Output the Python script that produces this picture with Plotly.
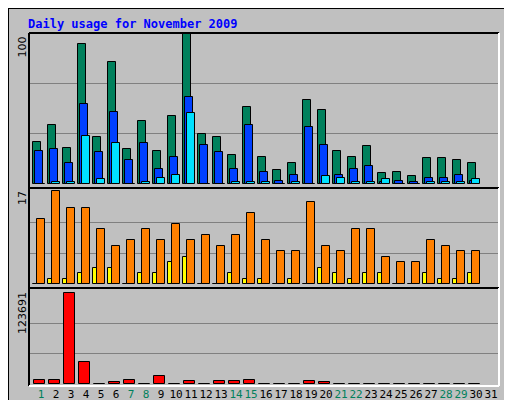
import plotly.graph_objects as go
from plotly.subplots import make_subplots

days = list(range(1, 31))
hits = [28,39,24,93,31,81,23,42,22,45,100,33,31,19,51,18,9,14,56,49,22,18,25,7,8,5,17,17,16,14]
files = [22,23,14,53,21,48,16,27,10,18,58,26,21,10,39,8,2,6,38,26,6,10,12,1,2,1,4,4,6,2]
pages = [0,1,1,32,3,27,0,1,4,6,47,0,0,1,1,1,0,1,0,5,4,1,1,3,0,0,1,1,1,3]
visits = [0,1,1,2,3,3,0,2,2,4,5,0,0,2,1,1,0,1,0,3,2,1,2,2,0,0,2,1,1,2]
sites = [12,17,14,14,10,7,8,10,8,11,8,9,7,9,13,8,6,6,15,7,6,10,10,5,4,4,8,7,6,6]
kbytes = [5850,5850,123691,29500,400,3100,5850,400,11300,400,4500,400,4500,4500,5850,400,400,400,4500,3100,400,400,400,400,400,400,400,400,400,400]
weekend = [1,7,8,14,15,21,22,28,29]
tick_days = list(range(1, 32))

P = 15.0  # px per day
def ow(a, b):
    return dict(offset=a / P, width=(b - a) / P)

fig = make_subplots(rows=3, cols=1, shared_xaxes=True)
ln = dict(color="black", width=1)
fig.add_bar(x=days, y=hits, marker=dict(color="#00805C", line=ln), **ow(-8, 0), row=1, col=1)
fig.add_bar(x=days, y=files, marker=dict(color="#0040FF", line=ln), **ow(-6, 2), row=1, col=1)
fig.add_bar(x=days, y=pages, marker=dict(color="#00E0FF", line=ln), **ow(-4, 4), row=1, col=1)
fig.add_bar(x=days, y=visits, marker=dict(color="#FFFF00", line=ln), **ow(-8, 0), row=2, col=1)
fig.add_bar(x=days, y=sites, marker=dict(color="#FF8000", line=ln), **ow(-4, 4), row=2, col=1)
fig.add_bar(x=days, y=kbytes, marker=dict(color="#FF0000", line=ln), **ow(-7, 4), row=3, col=1)

W, H = 512, 400
def py(y):
    return 1 - y / H

xdom = [21 / W, 491 / W]
xr = [1 - 12 / P, 1 + 458 / P]
for i in (1, 2, 3):
    k = "xaxis" if i == 1 else f"xaxis{i}"
    fig.layout[k].update(domain=xdom, range=xr, showgrid=False, zeroline=False,
                         showticklabels=False, ticks="")
fig.layout.xaxis3.update(showticklabels=True, tickvals=tick_days, tickangle=0, ticklen=0,
                         ticktext=[f"<span style='color:#00805C'>{d}</span>" if d in weekend else str(d) for d in tick_days],
                         tickfont=dict(family="DejaVu Sans Mono", size=11, color="black"))

panels = [(25, 180, 176, [-2.7, 100.6], [100/3, 200/3]),
          (180, 280, 276, [-0.73, 17.6], [17/3, 34/3]),
          (280, 378, 376, [-2718, 130500], [123691/3, 2*123691/3])]
for i, (t, b, base, rng, gv) in enumerate(panels, 1):
    k = "yaxis" if i == 1 else f"yaxis{i}"
    fig.layout[k].update(domain=[py(b), py(t)], range=rng, tickvals=gv, showticklabels=False,
                         gridcolor="#808080", gridwidth=1, zeroline=False, ticks="")
    fig.add_shape(type="line", xref="paper", yref="paper", x0=xdom[0], x1=xdom[1], y0=py(t), y1=py(t), line=dict(color="black", width=2))
    fig.add_shape(type="line", xref="paper", yref="paper", x0=xdom[0], x1=xdom[0], y0=py(b), y1=py(t), line=dict(color="black", width=2))
    fig.add_shape(type="line", xref="paper", yref="paper", x0=xdom[0], x1=xdom[1], y0=py(b), y1=py(b), line=dict(color="white", width=2))
    fig.add_shape(type="line", xref="paper", yref="paper", x0=xdom[1], x1=xdom[1], y0=py(b), y1=py(t), line=dict(color="white", width=2))

fig.add_shape(type="rect", xref="paper", yref="paper", x0=0, x1=1, y0=0, y1=1, line=dict(color="black", width=2))
fig.add_shape(type="line", xref="paper", yref="paper", x0=508/W, x1=508/W, y0=py(394), y1=py(3), line=dict(color="#808080", width=4))
fig.add_shape(type="line", xref="paper", yref="paper", x0=3/W, x1=508/W, y0=py(397), y1=py(397), line=dict(color="#808080", width=4))

mono = "DejaVu Sans Mono"
fig.add_annotation(text="<b>Daily usage for November 2009</b>", xref="paper", yref="paper",
                   x=18/W, y=py(16), xanchor="left", yanchor="middle", showarrow=False,
                   font=dict(family=mono, size=12, color="#0000FF"))
for txt, t in [("100", 27), ("17", 181), ("123691", 282)]:
    fig.add_annotation(text=txt, xref="paper", yref="paper", x=14/W, y=py(t), textangle=-90,
                       xanchor="center", yanchor="top", showarrow=False,
                       font=dict(family="DejaVu Sans", size=11, color="black"))

# right-side labels, segment by segment (bottom-to-top reading)
right_labels = [
    (137, 5.45, [("Pages", "#00E0FF"), (" / ", "black"), ("Files", "#0040FF"), (" / ", "black"), ("Hits", "#00805C")]),
    (277, 5.57, [("Sites", "#FF8000"), (" / ", "black"), ("Visits", "#FFFF00")]),
    (377, 6.0, [("KBytes", "#FF0000")]),
]
for bottom, cw, segs in right_labels:
    s = 0
    for txt, col in segs:
        n = len(txt)
        if txt.strip():
            lead = len(txt) - len(txt.lstrip())
            core = txt.strip()
            y0 = bottom - (s + lead) * cw
            y1 = y0 - len(core) * cw
            fig.add_annotation(text=core, xref="paper", yref="paper", x=501/W, y=py((y0 + y1) / 2),
                               textangle=-90, xanchor="center", yanchor="middle", showarrow=False,
                               font=dict(family=mono, size=9, color=col))
        s += n

fig.update_layout(width=W, height=H, margin=dict(l=0, r=0, t=0, b=0), showlegend=False,
                  paper_bgcolor="#C0C0C0", plot_bgcolor="#C0C0C0", barmode="overlay",
                  bargap=0)
fig.write_html("out.html")
